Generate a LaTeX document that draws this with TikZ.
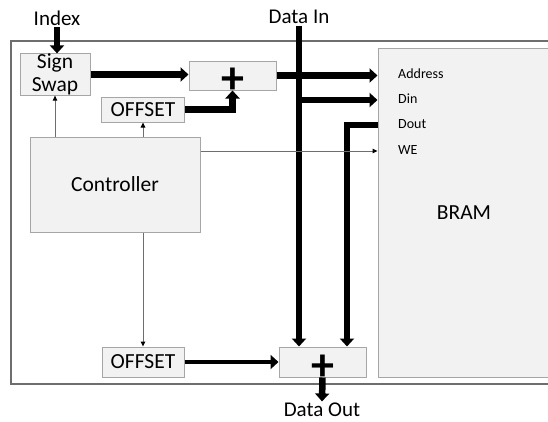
\documentclass[tikz,border=0pt]{standalone}
\usepackage{fontspec}
\setmainfont{Carlito}
\usepackage{xcolor}
\usetikzlibrary{arrows.meta}

\definecolor{boxfill}{HTML}{F2F2F2}
\definecolor{boxline}{HTML}{A6A6A6}
\definecolor{wire}{HTML}{6E6E6E}

\begin{document}
\begin{tikzpicture}[x=1pt, y=-1pt,
  block/.style={draw=boxline, fill=boxfill, line width=1pt, inner sep=0pt, align=center, font=\fontsize{21.5}{23}\selectfont},
  adder/.style={block, font=\fontsize{46}{46}\selectfont\bfseries},
  port/.style={anchor=west, inner sep=0pt, text height=10pt, text depth=3pt, font=\fontsize{14}{16}\selectfont},
  extlabel/.style={inner sep=1.5pt, font=\fontsize{21}{22}\selectfont},
  bus/.style={-{Triangle[length=8pt,width=14pt]}, line width=6.5pt},
  ctl/.style={-{Triangle[length=5pt,width=4.5pt,color=black]}, draw=wire, line width=1pt},
]
\clip (0,0) rectangle (548,421);
% outer frame, right side runs off the picture
\draw[wire, line width=1.3pt] (560,41) -- (11,41) -- (11,384) -- (560,384);

\node[block, minimum width=70, minimum height=41] (sign) at (55,74.5) {Sign\\Swap};
\node[adder, minimum width=87, minimum height=29] (addtop) at (232.5,75.5) {\smash{\raisebox{-18pt}{+}}};
\node[block, minimum width=83, minimum height=25] (offtop) at (143,109.5) {OFFSET};
\node[block, minimum width=170, minimum height=95] (ctrl) at (115,184.5) {Controller};
\node[block, minimum width=172, minimum height=329] (bram) at (464,212.5) {BRAM};
\node[block, minimum width=82, minimum height=30] (offbot) at (143,362) {OFFSET};
\node[adder, minimum width=87, minimum height=30] (addbot) at (322.5,362) {\smash{\raisebox{-18pt}{+}}};

% BRAM ports
\node[port] (paddr) at (398,75) {Address};
\node[port] (pdin) at (398,100) {Din};
\node[port] (pdout) at (398,125) {Dout};
\node[port] (pwe) at (398,151) {WE};

\node[extlabel] (index) at (57,18) {Index};
\node[extlabel] (datain) at (299,17) {Data In};
\node[extlabel] (dataout) at (322,410) {Data Out};

% data path
\draw[bus] (index.south) -- (index.south |- sign.north);
\draw[bus] (sign.east) -- (sign.east -| addtop.west);
\draw[bus] (offtop.east) -| (addtop.south);
\draw[bus] (addtop.east) -- (addtop.east -| bram.west);
\draw[bus] (datain.south) -- (datain.south |- addbot.north);
\draw[bus] (datain.south |- pdin) -- (pdin -| bram.west);
\draw[bus] (pdout -| bram.west) -| ([xshift=24.5pt]addbot.north);
\draw[bus, line width=4.5pt] (offbot.east) -- (addbot.west);
\draw[bus] (addbot.south) -- (dataout.north);

% control
\draw[ctl] (sign.south |- ctrl.north) -- (sign.south);
\draw[ctl] (offtop.south |- ctrl.north) -- (offtop.south);
\draw[ctl] (ctrl.east |- pwe) -- (pwe -| bram.west);
\draw[ctl] (offbot.north |- ctrl.south) -- (offbot.north);
\end{tikzpicture}
\end{document}
